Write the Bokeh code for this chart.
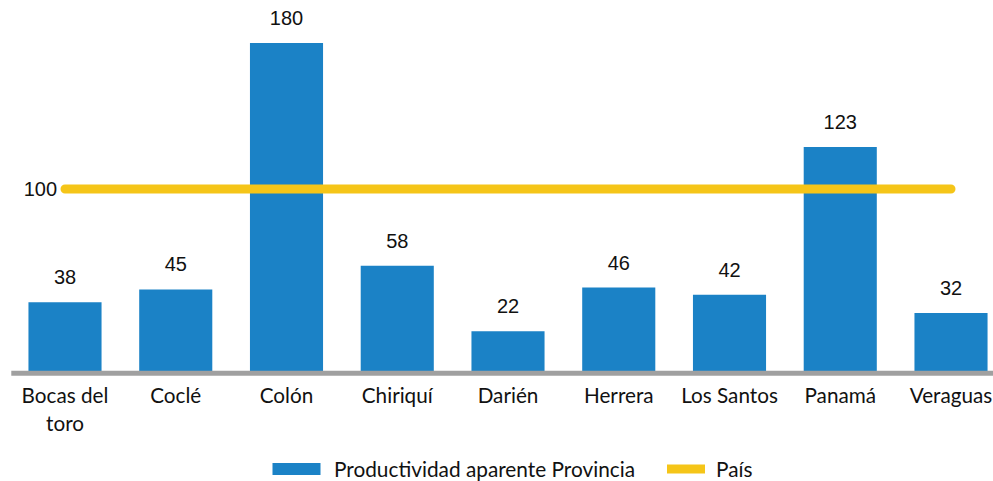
from bokeh.plotting import figure
from bokeh.models import ColumnDataSource, Range1d, Legend, LegendItem
from bokeh.core.properties import value
from bokeh.embed import file_html
from bokeh.resources import INLINE

categories = ["Bocas del\ntoro", "Coclé", "Colón", "Chiriquí", "Darién",
              "Herrera", "Los Santos", "Panamá", "Veraguas"]
productividad = [38, 45, 180, 58, 22, 46, 42, 123, 32]
pais = [100] * len(categories)

BLUE = "#1b82c6"
YELLOW = "#f5c518"
GRAY = "#a0a0a0"

idx = list(range(len(categories)))
src = ColumnDataSource(dict(
    x=idx, top=productividad, pais=pais,
    cat=categories, lab=[str(v) for v in productividad],
))

p = figure(width=993, height=481, output_backend="svg", toolbar_location=None,
           x_range=Range1d(-0.5824, 8.3837), y_range=Range1d(-60.27, 203.29),
           min_border=0, outline_line_color=None)
p.axis.visible = False
p.grid.visible = False
p.background_fill_color = None

bars = p.vbar(x="x", top="top", bottom=0, width=0.66, source=src,
              fill_color=BLUE, line_color=None)

# baseline
p.segment(x0=[-0.485], x1=[8.5], y0=[-1], y1=[-1], line_color=GRAY, line_width=5)

line = p.line(x="x", y="pais", source=src, line_color=YELLOW, line_width=9,
              line_cap="round")

# value labels
p.text(x="x", y="top", text="lab", source=src, text_align="center",
       text_baseline="middle", y_offset=-25,
       text_font=value("Liberation Sans"), text_font_size="20px", text_color="#111111")
p.text(x=[0], y=[100], text=[str(pais[0])], text_align="right", text_baseline="middle",
       x_offset=-8, text_font=value("Liberation Sans"), text_font_size="20px",
       text_color="#111111")

# category labels
p.text(x="x", y=0, text="cat", source=src, text_align="center", text_baseline="top",
       y_offset=11, text_font=value("Lato"), text_font_size="20.7px",
       text_color="#111111", text_line_height=1.2)

common = dict(orientation="horizontal", border_line_color=None,
              background_fill_alpha=0, padding=0, margin=0,
              label_text_font="Lato", label_text_font_size="20.8px",
              label_text_color="#111111")

legend1 = Legend(items=[LegendItem(label="Productividad aparente Provincia", renderers=[bars])],
                 location=(266, 0), glyph_width=60, glyph_height=15,
                 label_standoff=8, **common)
legend2 = Legend(items=[LegendItem(label="País", renderers=[line])],
                 location=(667, 0), glyph_width=38, glyph_height=15,
                 label_standoff=11, **common)
p.add_layout(legend1)
p.add_layout(legend2)

open("out.html", "w").write(file_html(p, INLINE))
